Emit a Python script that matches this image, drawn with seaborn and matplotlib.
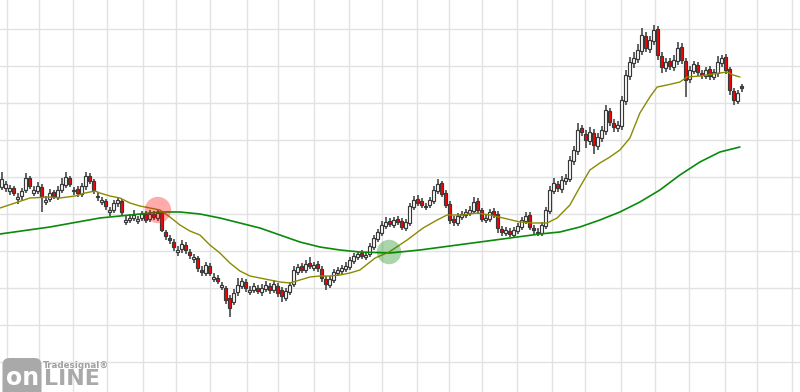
import numpy as np
import pandas as pd
import matplotlib
matplotlib.use("Agg")
import matplotlib.pyplot as plt
import seaborn as sns
from matplotlib.patches import FancyBboxPatch

# ---------------- data ----------------
opens = [213,212,209,212,201,204,210,222,207,209,
         213,198,201,208,203,210,215,222,209,211,
         206,214,224,219,203,198,199,188,190,197,
         199,178,180,182,179,182,186,181,186,182,
         187,168,162,158,148,151,155,148,141,142,
         130,127,134,121,122,113,112,102,98,108,
         114,118,108,110,112,108,111,114,110,114,
         110,102,108,116,128,134,130,137,132,136,
         131,121,115,120,127,129,131,133,139,143,
         147,143,146,153,161,167,174,179,175,181,
         179,172,177,193,201,199,193,195,199,209,
         217,207,196,181,177,183,185,187,189,199,
         190,180,181,189,186,171,167,169,165,169,
         173,179,185,172,167,167,174,189,209,216,
         211,219,221,239,249,272,266,259,267,254,
         262,269,289,277,272,274,299,324,337,341,
         349,364,351,359,371,344,332,339,333,339,
         353,339,321,329,335,327,324,331,323,327,
         337,343,331,309,299,314]

highs = [228,219,215,214,207,212,227,224,214,218,
         216,204,211,210,214,222,228,224,213,214,
         217,228,227,221,208,203,201,193,200,203,
         201,184,186,190,184,189,189,190,189,190,
         189,170,165,161,154,160,158,151,146,144,
         134,138,137,127,125,118,114,105,111,122,
         122,121,114,117,115,116,119,117,120,117,
         113,112,118,134,136,137,140,143,138,139,
         134,124,124,131,133,135,138,143,147,149,
         150,148,157,165,171,179,183,182,183,184,
         182,181,197,204,205,202,197,203,214,221,
         219,210,199,184,187,189,191,194,203,202,
         192,185,191,192,189,174,173,172,173,177,
         183,188,188,175,172,178,193,214,222,219,
         224,226,244,254,277,275,270,273,271,267,
         274,295,292,281,279,304,330,343,348,356,
         372,368,364,375,374,348,342,342,345,358,
         357,342,334,339,338,330,333,334,331,344,
         345,346,333,312,310,316]

lows = [210,208,205,204,196,200,207,211,204,206,
        188,195,198,201,200,207,212,213,205,203,
        203,210,216,206,199,195,190,184,187,193,
        185,175,177,179,176,179,177,178,180,179,
        168,160,156,149,144,147,146,141,137,128,
        124,124,124,118,116,110,96,83,95,104,
        111,108,105,107,106,104,108,106,107,103,
        98,99,105,113,125,127,127,131,129,128,
        118,110,112,117,124,126,128,130,136,140,
        141,140,143,150,158,164,171,173,172,175,
        170,169,174,190,194,192,190,192,196,206,
        203,192,176,174,174,180,182,184,186,186,
        178,177,178,182,167,164,164,163,162,166,
        170,176,170,166,164,164,171,186,206,208,
        207,215,218,235,245,264,252,255,246,250,
        258,265,274,268,268,270,295,320,332,337,
        345,348,347,355,340,327,328,330,329,335,
        336,303,317,326,324,321,321,320,320,323,
        333,326,305,295,296,308]

closes = [221,216,212,207,203,209,222,214,210,214,
          203,200,207,204,210,216,223,216,210,207,
          214,224,219,210,204,200,194,190,197,200,
          188,180,182,185,181,186,180,186,183,187,
          170,164,160,153,150,156,150,145,143,132,
          128,135,127,123,119,115,100,92,107,115,
          119,112,110,114,109,112,115,110,116,107,
          104,109,115,130,133,130,136,134,135,132,
          122,116,121,128,130,132,134,140,144,146,
          144,145,154,162,168,175,178,176,180,178,
          173,178,194,200,197,195,194,200,210,216,
          206,195,180,178,184,186,188,190,198,190,
          181,182,188,185,172,168,170,166,170,174,
          180,184,173,170,168,175,190,210,217,212,
          220,222,240,250,270,268,260,268,255,263,
          270,290,278,273,275,300,325,338,342,350,
          365,352,360,370,345,333,338,334,340,352,
          340,320,330,336,328,325,330,324,328,338,
          342,330,310,300,307,312]

# short moving average (olive)
ma_fast_t = [-0.4,3.4,7.1,12.1,14.6,18.4,20.9,23.4,24.6,27.1,
             29.6,32.1,34.6,37.1,39.6,42.1,44.6,47.1,49.6,52.1,
             54.6,57.1,59.6,62.1,64.6,67.1,69.6,72.1,74.6,77.1,
             79.6,82.1,84.6,87.1,89.6,93.4,96.9,101.4,105.4,108.9,
             111.4,115.4,118.9,122.1,125.4,129.6,132.9,136.4,138.9,142.1,
             144.6,147.1,149.6,152.1,154.6,157.1,159.6,162.1,163.9,166.4,
             169.6,171.4,174.6,177.9,181.4,182.9,184.6]
ma_fast_v = [192,197,202,203,202,204,207,209,207,204,
             202,197,194,192,190,183,175,169,165,155,
             147,137,129,124,122,120,118,117,120,123,
             124,124,125,127,130,142,148,160,172,180,
             185,185,187,185,182,178,177,177,182,195,
             213,230,237,243,250,262,287,303,313,315,
             318,323,324,326,328,325,323]

# long moving average (green)
ma_slow_t = [-0.4,12.1,24.6,37.1,39.6,44.6,49.6,54.6,59.6,64.6,
             69.6,74.6,79.6,84.6,89.6,97.1,104.6,112.1,119.6,127.1,
             134.6,139.6,144.6,149.6,154.6,159.6,164.6,169.6,174.6,179.6,
             184.6]
ma_slow_v = [166,173,182,187,188,188,186,182,177,172,
             165,158,153,150,148,147,150,154,158,162,
             166,168,173,180,188,198,210,225,238,248,
             253]

# crossover signals
signal_t = [39.1, 96.9]
signal_p = [190, 148]
signal_kind = ["sell", "buy"]

# grid (time / price levels)
grid_t = [1.4,9.4,17.9,26.4,35.4,43.6,52.1,61.4,69.1,78.1,86.9,95.1,
          103.9,111.9,120.1,128.9,137.6,145.9,154.9,163.4,171.9,180.9,188.9,197.6]
grid_p = [38,75,112,149,186,223,260,297,334,371]

# ---------------- plotting ----------------
sns.set_style("white")
fig = plt.figure(figsize=(8, 3.92), dpi=100)
ax = fig.add_axes([0, 0, 1, 1])

df = pd.DataFrame({"open": opens, "high": highs, "low": lows, "close": closes})
df["t"] = np.arange(len(df))
up = df["close"] >= df["open"]

edge = "#383838"
ax.vlines(df["t"], df["low"], df["high"], color=edge, lw=1.1, zorder=2)
body_bottom = np.minimum(df["open"], df["close"])
body_h = np.maximum(np.abs(df["close"] - df["open"]), 0.6)
face = np.where(up, "white", "#ff0000")
ax.bar(df["t"], body_h, bottom=body_bottom, width=0.82, color=face,
       edgecolor=edge, linewidth=0.85, zorder=3)

sns.lineplot(x=ma_slow_t, y=ma_slow_v, ax=ax, color="#0a8a0a", lw=1.2, zorder=4)
sns.lineplot(x=ma_fast_t, y=ma_fast_v, ax=ax, color="#8a8a00", lw=1.0, zorder=5)

sig = pd.DataFrame({"t": signal_t, "p": signal_p, "kind": signal_kind})
sns.scatterplot(data=sig, x="t", y="p", hue="kind",
                palette={"sell": "#ff0000", "buy": "#008000"},
                size="kind", sizes={"sell": 360, "buy": 310},
                alpha=0.33, linewidth=0, legend=False, ax=ax, zorder=6)

ax.set_xlim(-0.375, 199.625)
ax.set_ylim(8, 400)
ax.set_xticks(grid_t)
ax.set_yticks(grid_p)
ax.grid(True, color="#e2e2e2", lw=1.0, zorder=0)
ax.set_axisbelow(True)
ax.tick_params(left=False, bottom=False, labelleft=False, labelbottom=False)
ax.set_xlabel("")
ax.set_ylabel("")
for s in ax.spines.values():
    s.set_visible(False)

# logo
box = FancyBboxPatch((0.025, -0.1), 0.39, 0.44,
                     boxstyle="round,pad=0,rounding_size=0.07",
                     transform=fig.dpi_scale_trans, facecolor="#a9a9a9",
                     edgecolor="none", zorder=10)
fig.patches.append(box)
fig.text(22.5 / 800, 7 / 392, "on", ha="center", va="baseline", fontsize=17,
         fontweight="bold", color="white", family="DejaVu Sans", zorder=11)
fig.text(44 / 800, 7 / 392, "LINE", ha="left", va="baseline", fontsize=16,
         fontweight="bold", color="#a9a9a9", family="DejaVu Sans", zorder=11)
fig.text(43 / 800, 24 / 392, "Tradesignal®", ha="left", va="baseline", fontsize=6.3,
         fontweight="bold", color="#a0a0a0", family="DejaVu Sans", zorder=11)

fig.savefig("out.png", dpi=100)
